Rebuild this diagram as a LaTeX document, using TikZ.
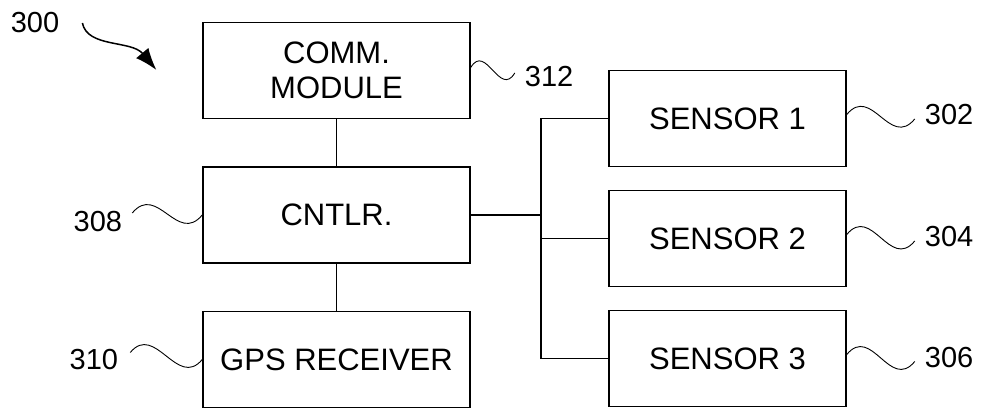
\documentclass[tikz,border=0pt]{standalone}
\usepackage{fontspec}
\setmainfont{Liberation Sans}
\usetikzlibrary{positioning}
\usetikzlibrary{arrows.meta}
\tikzstyle{block} = [rectangle, draw, line width=1.5pt, text centered, align=center,
    minimum width=267pt, minimum height=96pt, font=\fontsize{31}{35}\selectfont]
\tikzstyle{sensor} = [rectangle, draw, line width=1.5pt, text centered,
    minimum width=237pt, minimum height=96pt, font=\fontsize{31}{35}\selectfont]
\tikzstyle{num} = [inner sep=0pt, font=\fontsize{29}{32}\selectfont]
\tikzstyle{wire} = [line width=1.5pt]
\tikzstyle{lead} = [line width=0.9pt]
\tikzstyle{arrow} = [line width=1.5pt, -{Latex[length=22pt,width=16pt]}]

\begin{document}
\begin{tikzpicture}[node distance = 144.5pt]
\useasboundingbox (0,0) rectangle (997pt,-409pt);

\node (cntlr) [block] at (336.5pt,-215pt) {CNTLR.};
\node (comm) [block, above of=cntlr] {COMM.\\MODULE};
\node (gps) [block, below of=cntlr] {GPS RECEIVER};
\node (sens2) [sensor, node distance=391pt, right of=cntlr, yshift=-23.5pt] {SENSOR 2};
\node (sens1) [sensor, node distance=120pt, above of=sens2] {SENSOR 1};
\node (sens3) [sensor, node distance=120pt, below of=sens2] {SENSOR 3};
\coordinate[right=70pt of cntlr.east] (bus);

\node (l300) [num] at (35pt,-23pt) {300};
\node (l312) [num, right=54pt of comm.east, yshift=-6.5pt] {312};
\node (l308) [num, left=80pt of cntlr, yshift=-7pt] {308};
\node (l310) [num, left=84pt of gps] {310};
\node (l302) [num, right=78pt of sens1, yshift=3.5pt] {302};
\node (l304) [num, right=78pt of sens2, yshift=1.5pt] {304};
\node (l306) [num, right=78pt of sens3, yshift=1pt] {306};

\draw [wire] (comm) -- (cntlr);
\draw [wire] (cntlr) -- (gps);
\draw [wire] (cntlr) -- (bus);
\draw [wire] (sens1) -| (bus) |- (sens3);
\draw [wire] (bus |- sens2) -- (sens2);

\draw [arrow] ([xshift=23pt]l300.east) .. controls +(5pt,-25pt) and +(-25pt,30pt) .. ([shift={(97pt,-47pt)}]l300.east);
\draw [lead] ([yshift=3pt]comm.east) .. controls +(15pt,25pt) and +(-15pt,-25pt) .. ([shift={(-10pt,4pt)}]l312.west);
\draw [lead] ([shift={(10pt,9pt)}]l308.east) .. controls +(25pt,30pt) and +(-25pt,-30pt) .. (cntlr.west);
\draw [lead] ([shift={(12pt,7pt)}]l310.east) .. controls +(25pt,30pt) and +(-25pt,-30pt) .. (gps.west);
\draw [lead] ([yshift=4pt]sens1.east) .. controls +(25pt,30pt) and +(-25pt,-30pt) .. ([shift={(-10pt,-4pt)}]l302.west);
\draw [lead] ([yshift=4pt]sens2.east) .. controls +(25pt,30pt) and +(-25pt,-30pt) .. ([shift={(-10pt,-4pt)}]l304.west);
\draw [lead] ([yshift=4pt]sens3.east) .. controls +(25pt,30pt) and +(-25pt,-30pt) .. ([shift={(-10pt,-4pt)}]l306.west);
\end{tikzpicture}
\end{document}
